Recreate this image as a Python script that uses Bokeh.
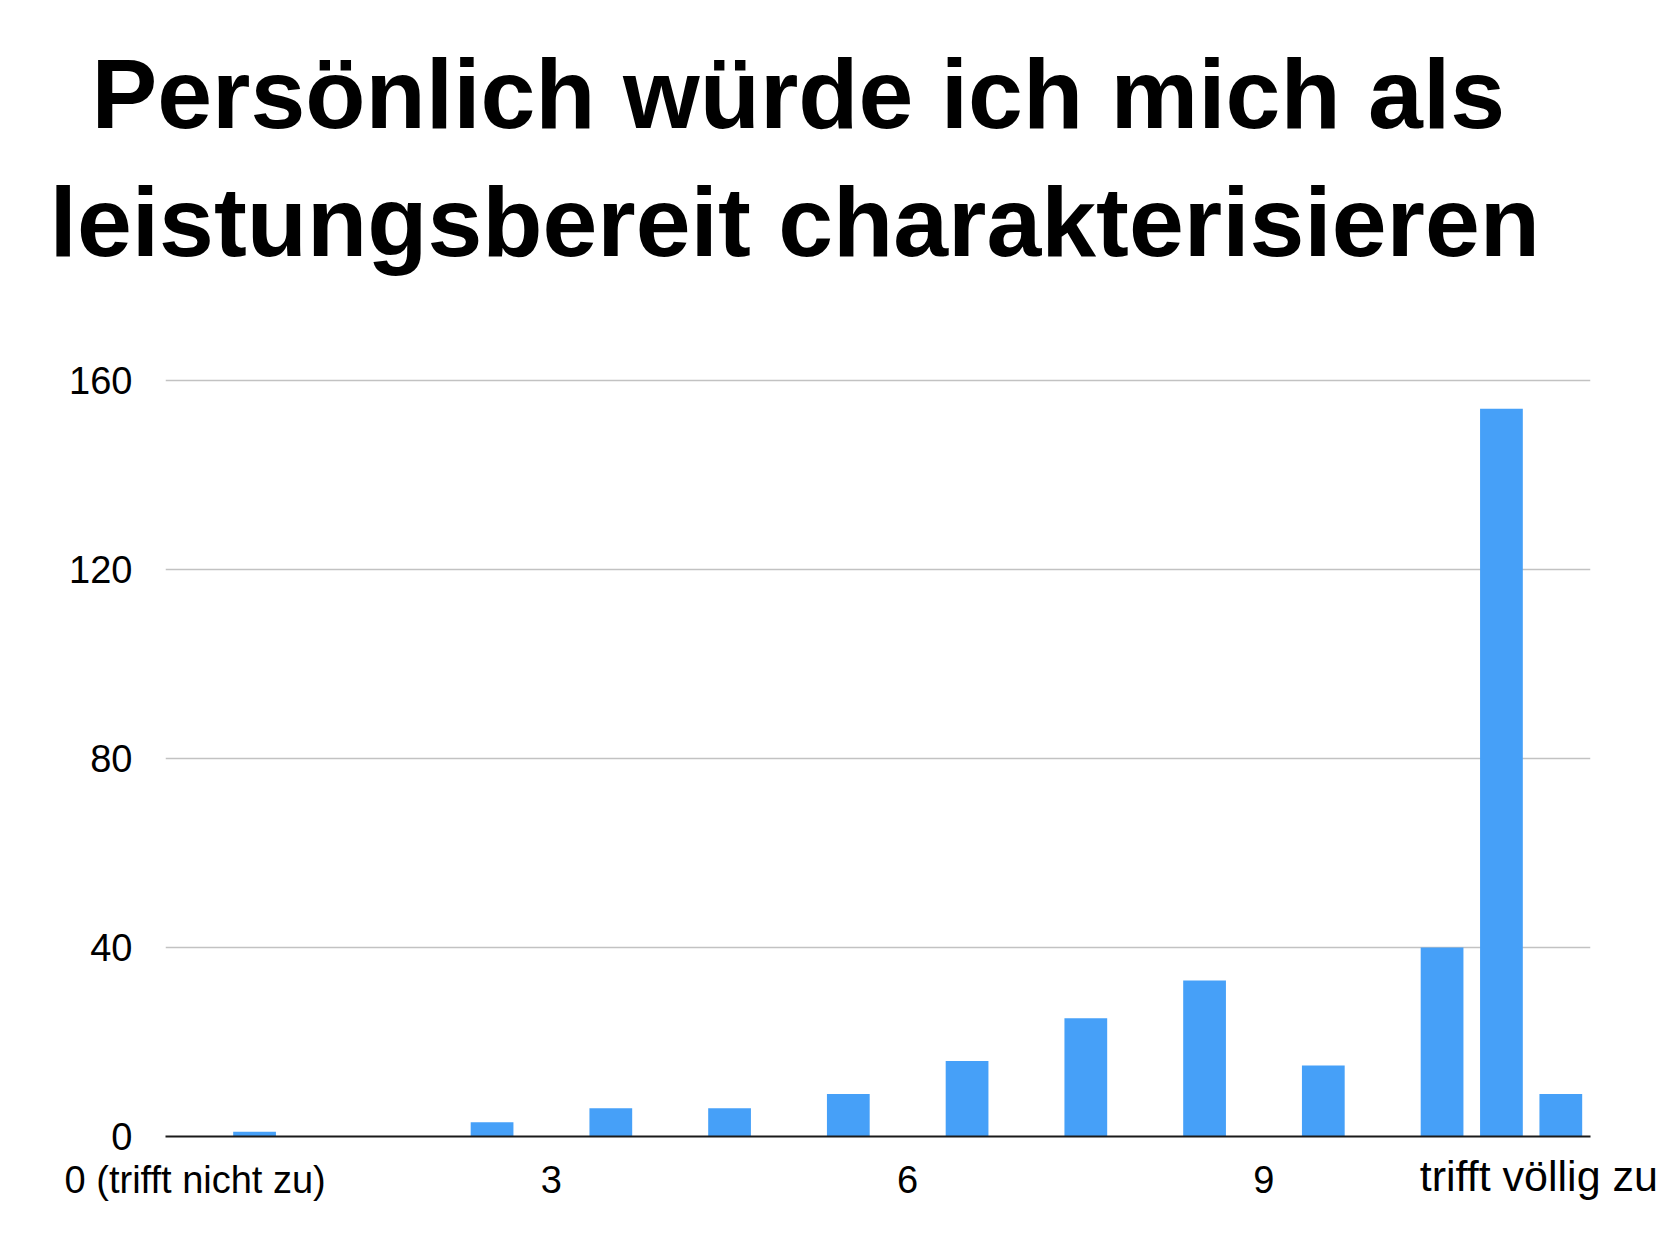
from bokeh.plotting import figure
from bokeh.models import Range1d, FixedTicker, ColumnDataSource, Title, LinearAxis
from bokeh.embed import file_html
from bokeh.resources import INLINE

# ---- data ----
title_lines = ["Persönlich würde ich mich als", "leistungsbereit charakterisieren"]
counts = [0, 1, 0, 0, 0, 3, 0, 6, 0, 6, 0, 9, 0, 16, 0, 25, 0, 33, 0, 15, 0, 40, 154, 9]
tick_slots = [0, 6, 12, 18]
tick_labels = ["0 (trifft nicht zu)", "3", "6", "9"]
end_label = "trifft völlig zu"
end_label_pos = 23.13
y_ticks = [0, 40, 80, 120, 160]

FONT = "Liberation Sans"
BAR = "#46a0f8"
W, H = 1680, 1234

xs = [i + 0.5 for i, c in enumerate(counts) if c > 0]
tops = [c for c in counts if c > 0]
src = ColumnDataSource(dict(x=xs, top=tops))

p = figure(width=W, height=H, output_backend="svg", toolbar_location=None,
           x_range=Range1d(0, len(counts)), y_range=Range1d(0, 160.4),
           min_border_left=165, min_border_right=90,
           min_border_top=378, min_border_bottom=98)
p.outline_line_color = None
p.background_fill_color = "white"
p.border_fill_color = "white"

p.vbar(x="x", top="top", width=0.72, bottom=0, source=src,
       fill_color=BAR, line_color=None)

# grid
p.xgrid.grid_line_color = None
p.ygrid.ticker = FixedTicker(ticks=y_ticks)
p.ygrid.grid_line_color = "#c2c2c2"
p.ygrid.grid_line_width = 1.6

# y axis
p.yaxis.ticker = FixedTicker(ticks=y_ticks)
p.yaxis.axis_line_color = None
p.yaxis.major_tick_line_color = None
p.yaxis.minor_tick_line_color = None
p.yaxis.major_tick_out = 0
p.yaxis.major_tick_in = 0
p.yaxis.major_label_standoff = 33
p.yaxis.major_label_text_font = FONT
p.yaxis.major_label_text_font_size = "38px"
p.yaxis.major_label_text_color = "black"

# x axis
tick_pos = [s + 0.5 for s in tick_slots]
p.xaxis.ticker = FixedTicker(ticks=tick_pos)
p.xaxis.major_label_overrides = {t: lab for t, lab in zip(tick_pos, tick_labels)}
p.xaxis.axis_line_color = "#1a1a1a"
p.xaxis.axis_line_width = 2.2
p.xaxis.major_tick_line_color = None
p.xaxis.minor_tick_line_color = None
p.xaxis.major_tick_out = 0
p.xaxis.major_tick_in = 0
p.xaxis.major_label_standoff = 22
p.xaxis.major_label_text_font = FONT
p.xaxis.major_label_text_font_size = "38px"
p.xaxis.major_label_text_color = "black"

# end label of the scale on a second axis
ax2 = LinearAxis(ticker=FixedTicker(ticks=[end_label_pos]),
                 major_label_overrides={end_label_pos: end_label})
ax2.axis_line_color = None
ax2.major_tick_line_color = None
ax2.minor_tick_line_color = None
ax2.major_tick_out = 0
ax2.major_tick_in = 0
ax2.major_label_standoff = -52
ax2.major_label_text_font = FONT
ax2.major_label_text_font_size = "43px"
ax2.major_label_text_color = "black"
p.add_layout(ax2, "below")

# title lines (spacer first, closest to the frame)
spacer = Title(text=" ", standoff=90, text_font_size="1px", text_color="white")
t2 = Title(text=title_lines[1], align="left", offset=-116, standoff=18,
           text_font=FONT, text_font_style="bold", text_font_size="98.6px",
           text_color="black")
t1 = Title(text=title_lines[0], align="left", offset=-74, standoff=13,
           text_font=FONT, text_font_style="bold", text_font_size="98.6px",
           text_color="black")
p.add_layout(spacer, "above")
p.add_layout(t2, "above")
p.add_layout(t1, "above")

open("out.html", "w").write(file_html(p, INLINE))
